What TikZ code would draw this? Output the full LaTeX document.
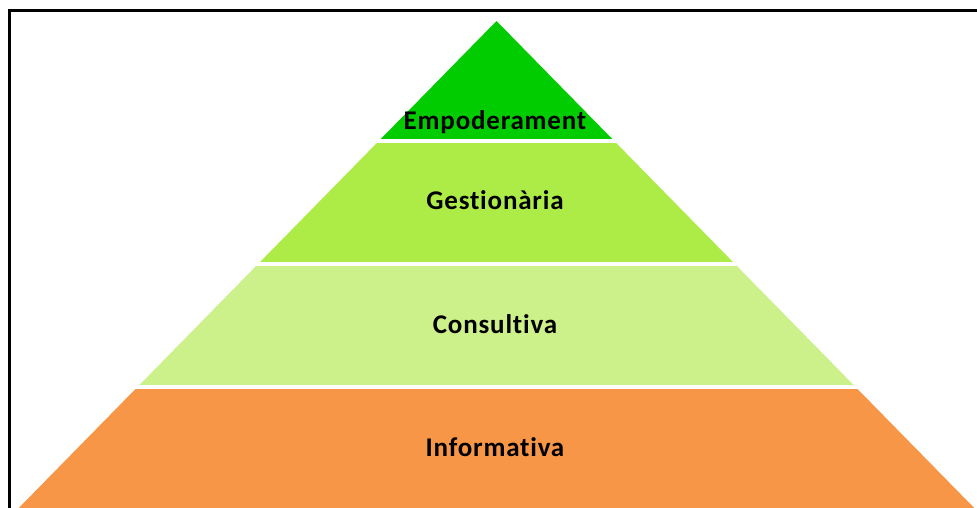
\documentclass[tikz,border=0pt]{standalone}
\usepackage{fontspec}
\setmainfont{Carlito}[Ligatures=NoCommon, LetterSpace=3]
\definecolor{tierA}{RGB}{0,204,0}
\definecolor{tierB}{RGB}{173,235,71}
\definecolor{tierC}{RGB}{204,240,138}
\definecolor{tierD}{RGB}{247,150,70}
\tikzset{
  tierlabel/.style={font=\bfseries\fontsize{27}{30}\selectfont, text=black, inner sep=0pt},
  frameline/.style={line width=3pt, black}
}
\begin{document}
\begin{tikzpicture}[x=1pt,y=-1pt]
\useasboundingbox (0,0) rectangle (977,508);
\fill[white] (0,0) rectangle (977,508);
% pyramid bands clipped to triangle
\begin{scope}
  \clip (496.5,21) -- (16.8,510) -- (976.2,510) -- cycle;
  \fill[tierA] (0,0) rectangle (977,139);
  \fill[tierB] (0,143) rectangle (977,262);
  \fill[tierC] (0,266) rectangle (977,385);
  \fill[tierD] (0,389) rectangle (977,510);
\end{scope}
% frame (top and left edges visible)
\coordinate (fbl) at (9.5,508);
\coordinate (ftl) at (9.5,10.5);
\coordinate (ftr) at (977,10.5);
\draw[frameline] (fbl) -- (ftl) -- (ftr);
% labels
\node[tierlabel] (emp) at (495,122) {Empoderament};
\node[tierlabel] (ges) at (495,200) {Gestionària};
\node[tierlabel] (con) at (495,324) {Consultiva};
\node[tierlabel] (inf) at (495,447) {Informativa};
\end{tikzpicture}
\end{document}
